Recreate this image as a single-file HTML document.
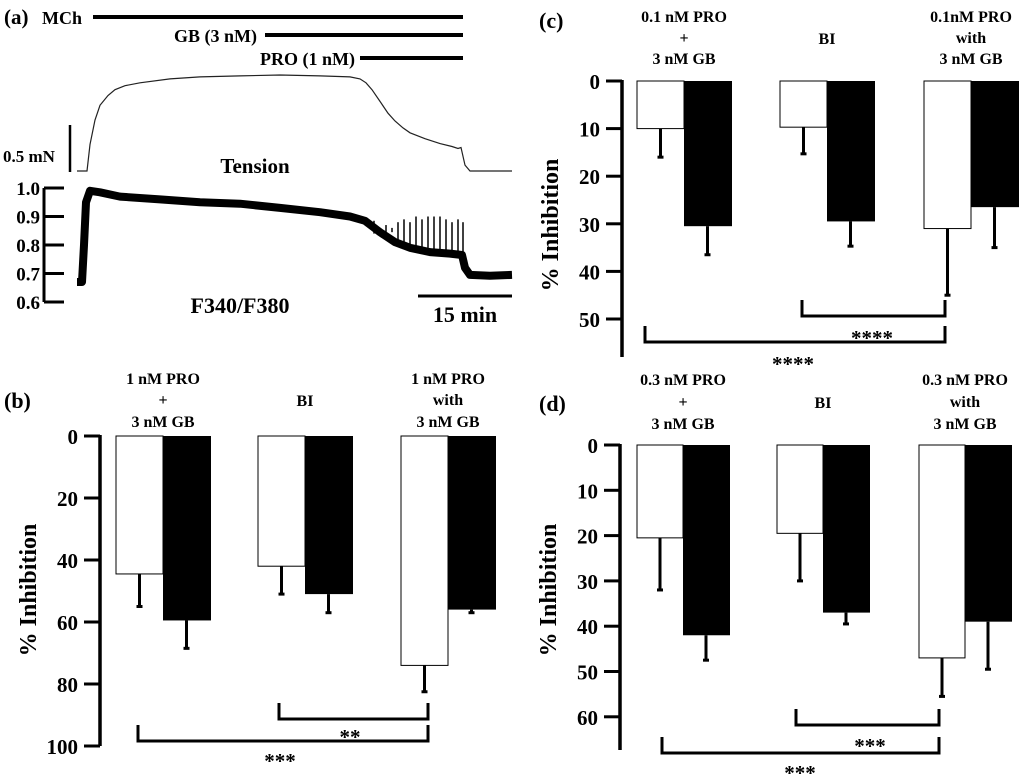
<!DOCTYPE html>
<html><head><meta charset="utf-8"><style>
html,body{margin:0;padding:0;background:#fff;}
svg{display:block;font-family:"Liberation Serif",serif;font-weight:bold;}
text{font-weight:bold;}
</style></head><body>
<svg id="fig" width="1024" height="777" viewBox="0 0 1024 777"></svg>
<script>
// ---------- Panel (a) data ----------
const tensionTimes=[77,87,90,95,100,108,115,125,140,170,200,240,280,320,350,360,366,372,380,388,395,403,410,425,440,452,458,461,465,470,512];
const tensionVals=[0,0,0.27,0.52,0.67,0.77,0.83,0.87,0.9,0.94,0.96,0.97,0.98,0.97,0.96,0.94,0.9,0.83,0.71,0.59,0.51,0.44,0.39,0.33,0.28,0.25,0.23,0.24,0.06,0.0,0.0];
const ratioTimes=[77,82,84,86,90,100,120,160,200,240,280,320,350,365,380,395,410,430,450,462,465,470,490,512];
const ratioVals=[0.67,0.67,0.8,0.95,0.99,0.985,0.97,0.96,0.95,0.945,0.93,0.915,0.9,0.885,0.845,0.81,0.79,0.775,0.77,0.765,0.72,0.695,0.692,0.695];
const spikeTimes=[374,380,386,392,398,404,410,416,422,428,434,440,446,452,458,463];
const spikeVals=[0.84,0.86,0.87,0.86,0.88,0.89,0.88,0.9,0.89,0.9,0.9,0.9,0.89,0.88,0.89,0.88];
const ratioTicks=[1.0,0.9,0.8,0.7,0.6];

// ---------- Bar panels data ----------
const groupsB=["1 nM PRO|+|3 nM GB","BI","1 nM PRO|with|3 nM GB"];
const whiteB=[44.5,42,74];
const whiteErrB=[10.5,9,8.5];
const blackB=[59.5,51,56];
const blackErrB=[9,6,1];
const ticksB=[0,20,40,60,80,100];

const groupsC=["0.1 nM PRO|+|3 nM GB","BI","0.1nM PRO|with|3 nM GB"];
const whiteC=[10,9.7,31];
const whiteErrC=[6,5.6,14];
const blackC=[30.5,29.5,26.5];
const blackErrC=[6,5.2,8.5];
const ticksC=[0,10,20,30,40,50];

const groupsD=["0.3 nM PRO|+|3 nM GB","BI","0.3 nM PRO|with|3 nM GB"];
const whiteD=[20.5,19.5,47];
const whiteErrD=[11.5,10.5,8.5];
const blackD=[42,37,39];
const blackErrD=[5.5,2.5,10.5];
const ticksD=[0,10,20,30,40,50,60];

const NS="http://www.w3.org/2000/svg";
const svg=document.getElementById('fig');
function mk(tag,attrs,parent){const e=document.createElementNS(NS,tag);for(const k in attrs)e.setAttribute(k,attrs[k]);(parent||svg).appendChild(e);return e;}
function txt(x,y,s,size,anchor,parent){const t=mk('text',{x:x,y:y,'font-size':size,'text-anchor':anchor||'middle','font-weight':'bold'},parent);t.textContent=s;return t;}

// ---------- Panel (a) ----------
const gA=mk('g',{});


const la=txt(4,24,'(a)',21,'start',gA);


const drugBars=[["MCh",93,17,42,"start"],["GB (3 nM)",265,35,257,"end"],["PRO (1 nM)",360,58,355,"end"]];
drugBars.forEach((d,i)=>{
  const t=txt(d[3],d[2]+7,d[0],18,d[4],gA);
  
  
  const l=mk('line',{x1:d[1],y1:d[2],x2:463,y2:d[2],stroke:'#000','stroke-width':4},gA);
  
  
});
// tension trace
const tY=v=>171-v*98;
let p=tensionTimes.map((t,i)=>(i?'L':'M')+t+' '+tY(tensionVals[i]).toFixed(1)).join(' ');
const tp=mk('path',{d:p,fill:'none',stroke:'#222','stroke-width':1.2},gA);


const sb=mk('line',{x1:70,y1:125,x2:70,y2:172,stroke:'#000','stroke-width':2.5},gA);


txt(3,162,'0.5 mN',17,'start',gA);
txt(255,173,'Tension',21,'middle',gA);
// ratio axis
const rY=v=>188+(1.0-v)*285;
const ax=mk('line',{x1:44,y1:rY(1.0),x2:44,y2:rY(0.6),stroke:'#000','stroke-width':3},gA);


ratioTicks.forEach(v=>{
  mk('line',{x1:44,y1:rY(v),x2:64,y2:rY(v),stroke:'#000','stroke-width':3},gA);
  const t=txt(40,rY(v)+7,v.toFixed(1),19,'end',gA);
  
  
});
p=ratioTimes.map((t,i)=>(i?'L':'M')+t+' '+rY(ratioVals[i]).toFixed(1)).join(' ');
const rp=mk('path',{d:p,fill:'none',stroke:'#000','stroke-width':8,'stroke-linejoin':'round'},gA);


spikeTimes.forEach((t,i)=>{
  const base=ratioVals.reduce((acc,v,j)=>ratioTimes[j]<=t?v:acc,ratioVals[0]);
  const s=mk('line',{x1:t,y1:rY(base),x2:t,y2:rY(spikeVals[i]),stroke:'#000','stroke-width':1.5},gA);
  
  
});
txt(240,313,'F340/F380',22,'middle',gA);
const tb=mk('line',{x1:418,y1:296,x2:512,y2:296,stroke:'#000','stroke-width':3},gA);


txt(465,322,'15 min',22,'middle',gA);

// ---------- Bar panel builder ----------
function barPanel(cfg){
  const g=mk('g',{});
  
  
  const y=v=>cfg.y0+v*cfg.k;
  const lab=txt(cfg.labX,cfg.labY,cfg.label,22,'start',g);
  
  
  const a=mk('line',{x1:cfg.ax,y1:cfg.y0-1,x2:cfg.ax,y2:cfg.axBottom,stroke:'#000','stroke-width':3.5},g);
  
  
  cfg.ticks.forEach(v=>{
    mk('line',{x1:cfg.ax-16,y1:y(v),x2:cfg.ax,y2:y(v),stroke:'#000','stroke-width':3},g);
    const t=txt(cfg.ax-22,y(v)+8,String(v),21,'end',g);
    
    
  });
  const yt=txt(0,0,'% Inhibition',24,'middle',g);
  yt.setAttribute('transform','translate('+(cfg.ax-64)+','+cfg.titleY+') rotate(-90)');
  
  
  cfg.groups.forEach((name,i)=>{
    const x=cfg.gx[i];
    const lines=name.split('|');
    lines.forEach((s,j)=>{
      const t=txt(x+cfg.bw,lines.length===1?cfg.hy[1]+1:cfg.hy[j],s,16,'middle',g);
      
      
    });
    const wx=x+cfg.bw/2, bx=x+cfg.bw*1.5;
    const we=mk('line',{x1:wx,y1:y(cfg.white[i]),x2:wx,y2:y(cfg.white[i]+cfg.wErr[i]),stroke:'#000','stroke-width':3},g);
    
    
    mk('line',{x1:wx-3,y1:y(cfg.white[i]+cfg.wErr[i]),x2:wx+3,y2:y(cfg.white[i]+cfg.wErr[i]),stroke:'#000','stroke-width':3},g);
    const be=mk('line',{x1:bx,y1:y(cfg.black[i]),x2:bx,y2:y(cfg.black[i]+cfg.bErr[i]),stroke:'#000','stroke-width':3},g);
    
    
    mk('line',{x1:bx-3,y1:y(cfg.black[i]+cfg.bErr[i]),x2:bx+3,y2:y(cfg.black[i]+cfg.bErr[i]),stroke:'#000','stroke-width':3},g);
    const wb=mk('rect',{x:x,y:y(0),width:cfg.bw,height:y(cfg.white[i])-y(0),fill:'#fff',stroke:'#000','stroke-width':1},g);
    
    
    const bb=mk('rect',{x:x+cfg.bw,y:y(0),width:cfg.bw+1,height:y(cfg.black[i])-y(0),fill:'#000'},g);
    
    
  });
  cfg.brackets.forEach(b=>{
    const br=mk('path',{d:'M'+b[0]+' '+(b[2]-16)+' V'+b[2]+' H'+b[1]+' V'+(b[2]-16),fill:'none',stroke:'#000','stroke-width':3},g);
    
    
    const s=txt(b[3],b[4],b[5],21,'middle',g);
    
    
  });
}
barPanel({name:'panel-b',label:'(b)',labX:4,labY:408,ax:100,y0:436,k:3.1,axBottom:746,ticks:ticksB,titleY:590,
  groups:groupsB,white:whiteB,wErr:whiteErrB,black:blackB,bErr:blackErrB,gx:[116,258,401],bw:47,hy:[384,405,427],
  brackets:[[279,428,719,350,744,'**'],[138,428,741,280,768,'***']]});
barPanel({name:'panel-c',label:'(c)',labX:539,labY:28,ax:622,y0:81,k:4.76,axBottom:357,ticks:ticksC,titleY:225,
  groups:groupsC,white:whiteC,wErr:whiteErrC,black:blackC,bErr:blackErrC,gx:[637,780,924],bw:47,hy:[22,43,64],
  brackets:[[802,945,316,872,345,'****'],[645,945,342,793,371,'****']]});
barPanel({name:'panel-d',label:'(d)',labX:539,labY:411,ax:620,y0:445,k:4.53,axBottom:750,ticks:ticksD,titleY:590,
  groups:groupsD,white:whiteD,wErr:whiteErrD,black:blackD,bErr:blackErrD,gx:[637,777,919],bw:46,hy:[385,407,429],
  brackets:[[796,939,725,870,753,'***'],[662,939,753,800,780,'***']]});
</script>
</body></html>
